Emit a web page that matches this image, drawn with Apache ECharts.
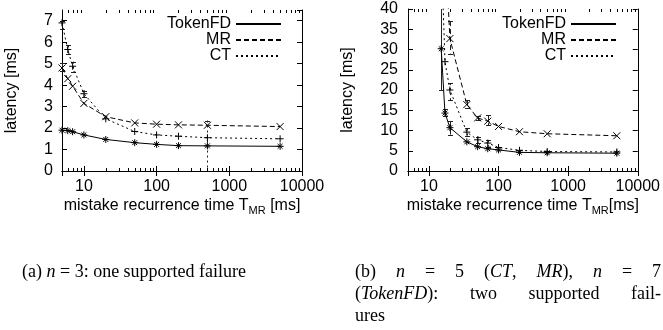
<!DOCTYPE html>
<html><head><meta charset="utf-8">
<script src="https://cdn.jsdelivr.net/npm/echarts@6/dist/echarts.min.js"></script>
<style>html,body{margin:0;padding:0;background:#fff}#c{width:663px;height:330px}</style>
</head><body><div id="c"></div>
<script>
// ---- data (a) n=3 ----
const xA = [5, 6, 7, 10, 20, 50, 100, 200, 500, 5000];
const tokenA = [1.9, 1.88, 1.83, 1.68, 1.47, 1.32, 1.24, 1.18, 1.17, 1.15];
const mrA = [4.8, 4.3, 3.95, 3.15, 2.53, 2.24, 2.18, 2.15, 2.13, 2.07];
const ctA = [6.9, 5.66, 4.88, 3.6, 2.43, 1.84, 1.68, 1.62, 1.55, 1.5];
// ---- data (b) n=5/7 ----
const xB = [15, 17, 20, 35, 50, 70, 100, 200, 500, 5000];
const tokenB = [30.2, 14.3, 10.7, 7.2, 6.0, 5.5, 5.2, 4.6, 4.5, 4.4];
const mrB = [null, 57, 32.7, 16.4, 13.1, 12.3, 11.0, 9.7, 9.2, 8.7];
const ctB = [55, 27, 20, 9.6, 7.7, 6.9, 5.8, 5.1, 4.8, 4.7];
// ---- error bars [x, low, high] ----
const errCtA = [[5, 6.6, 7.0], [6, 5.45, 5.85], [7, 4.6, 5.1], [10, 3.45, 3.75], [500, -0.2, 2.35]];
const errMrA = [[5, 4.65, 5.05]];
const errTokenB = [[15, 20, 45], [17, 13.5, 15.2], [20, 9, 12.3]];
const errMrB = [[20, 29, 37], [35, 15.5, 17.5], [50, 12.5, 13.6], [70, 11.3, 13.8]];
const errCtB = [[20, 17.5, 21.7], [35, 8.7, 10.5], [50, 7, 8.5], [70, 6, 7.6]];
// ---- axis ticks ----
const xMajorLabels = [10, 100, 1000, 10000];
const minorX = [6, 7, 8, 9, 20, 30, 40, 50, 60, 70, 80, 90, 200, 300, 400, 500, 600, 700, 800, 900,
  2000, 3000, 4000, 5000, 6000, 7000, 8000, 9000];
// ---- captions: words as runs [text, italic] ----
const capA = [[['(a) ', 0], ['n', 1], [' = 3: one supported failure', 0]]];
const capB1 = [[['(b)', 0]], [['n', 1]], [['=', 0]], [['5', 0]], [['(', 0], ['CT', 1], [',', 0]],
  [['MR', 1], ['),', 0]], [['n', 1]], [['=', 0]], [['7', 0]]];
const capB2 = [[['(', 0], ['TokenFD', 1], ['):', 0]], [['two', 0]], [['supported', 0]], [['fail-', 0]]];
const capB3 = [[['ures', 0]]];

const FONT = 'Liberation Sans';
const SERIF = 'Liberation Serif';
const CAP_SIZE = 18;
const pairs = (xs, ys) => xs.map((x, i) => [x, ys[i]]).filter(p => p[1] !== null);

const SYM_STAR = 'path://M0,5L10,5M5,0L5,10M1.5,1.5L8.5,8.5M8.5,1.5L1.5,8.5';
const SYM_X = 'path://M0,0L10,10M10,0L0,10';
const SYM_PLUS = 'path://M0,5L10,5M5,0L5,10';

function lineSeries(name, data, gi, type, sym) {
  return {
    name, type: 'line', data, xAxisIndex: gi * 2, yAxisIndex: gi * 2,
    symbol: sym, symbolSize: 7,
    lineStyle: { color: '#000', width: 1, type },
    itemStyle: { color: '#000', borderColor: '#000', borderWidth: 1 },
    clip: true, animation: false, z: 3
  };
}

function errSeries(data, gi, dash) {
  return {
    type: 'custom', xAxisIndex: gi * 2, yAxisIndex: gi * 2, animation: false, silent: true,
    data: data, encode: { x: 0, y: [1, 2] }, z: 2,
    renderItem: function (params, api) {
      const cs = params.coordSys;
      const x = Math.round(api.coord([api.value(0), 0])[0]) + 0.5;
      const yl = api.coord([api.value(0), api.value(1)])[1];
      const yh = api.coord([api.value(0), api.value(2)])[1];
      const top = cs.y, bot = cs.y + cs.height;
      const ch = [];
      const st = { stroke: '#222', lineWidth: 1, lineDash: dash };
      const cst = { stroke: '#222', lineWidth: 1 };
      const y1 = Math.min(Math.max(yh, top), bot), y2 = Math.min(Math.max(yl, top), bot);
      ch.push({ type: 'line', shape: { x1: x, y1: y1, x2: x, y2: y2 }, style: st });
      if (yh >= top) ch.push({ type: 'line', shape: { x1: x - 2.5, y1: Math.round(yh) + 0.5, x2: x + 2.5, y2: Math.round(yh) + 0.5 }, style: cst });
      if (yl <= bot) ch.push({ type: 'line', shape: { x1: x - 2.5, y1: Math.round(yl) + 0.5, x2: x + 2.5, y2: Math.round(yl) + 0.5 }, style: cst });
      return { type: 'group', children: ch };
    }
  };
}

function minorSeries(gi) {
  return {
    type: 'custom', xAxisIndex: gi * 2, yAxisIndex: gi * 2, animation: false, silent: true,
    data: minorX.map(v => [v, 0]), encode: { x: 0, y: 1 }, z: 4,
    renderItem: function (params, api) {
      const cs = params.coordSys;
      const x = Math.round(api.coord([api.value(0), 0])[0]) + 0.5;
      const st = { stroke: '#000', lineWidth: 1 };
      return { type: 'group', children: [
        { type: 'line', shape: { x1: x, y1: cs.y + cs.height, x2: x, y2: cs.y + cs.height - 3 }, style: st },
        { type: 'line', shape: { x1: x, y1: cs.y, x2: x, y2: cs.y + 3 }, style: st }
      ] };
    }
  };
}

const axisCommon = {
  axisLine: { show: true, lineStyle: { color: '#000', width: 1 } },
  axisTick: { show: true, inside: true, length: 5, lineStyle: { color: '#000', width: 1 } },
  splitLine: { show: false }
};
const labelStyle = { color: '#000', fontSize: 16, fontFamily: FONT };
const nameStyle = { color: '#000', fontSize: 16, fontFamily: FONT,
  rich: { sub: { fontSize: 11, fontFamily: FONT, color: '#000', padding: [9, 0, 0, 0] } } };

function xAxes(gi, title) {
  const base = { type: 'log', logBase: 10, min: 5, max: 10000, gridIndex: gi };
  return [
    Object.assign({}, axisCommon, base, {
      position: 'bottom',
      axisLabel: Object.assign({}, labelStyle, { margin: 8, showMinLabel: false,
        formatter: v => (xMajorLabels.indexOf(Math.round(v)) >= 0 ? String(Math.round(v)) : '') }),
      name: title, nameLocation: 'middle', nameGap: 25, nameTextStyle: nameStyle
    }),
    Object.assign({}, axisCommon, base, { position: 'top', axisLabel: { show: false } })
  ];
}
function yAxes(gi, max, interval, gap, lblMargin) {
  const base = { type: 'value', min: 0, max: max, interval: interval, gridIndex: gi };
  return [
    Object.assign({}, axisCommon, base, {
      position: 'left',
      axisLabel: Object.assign({}, labelStyle, { margin: lblMargin, showMaxLabel: max % interval === 0 }),
      name: 'latency [ms]', nameLocation: 'middle', nameGap: gap, nameRotate: 90,
      nameTextStyle: { color: '#000', fontSize: 16, fontFamily: FONT }
    }),
    Object.assign({}, axisCommon, base, { position: 'right', axisLabel: { show: false } })
  ];
}

const legendCommon = {
  orient: 'vertical', align: 'right', itemWidth: 45, itemHeight: 14, itemGap: 0, padding: 0,
  textStyle: { color: '#000', fontSize: 16, fontFamily: FONT, lineHeight: 16 },
  itemStyle: { opacity: 0 }, selectedMode: false,
  data: ['TokenFD', 'MR', 'CT']
};

// caption layout (justified lines)
const mctx = document.createElement('canvas').getContext('2d');
function fontOf(it) { return (it ? 'italic ' : '') + CAP_SIZE + 'px "' + SERIF + '"'; }
function runW(r) { mctx.font = fontOf(r[1]); return mctx.measureText(r[0]).width; }
function captionLine(words, x0, x1, y, justify) {
  const wW = words.map(w => w.reduce((s, r) => s + runW(r), 0));
  const total = wW.reduce((a, b) => a + b, 0);
  const gap = justify && words.length > 1 ? (x1 - x0 - total) / (words.length - 1) : 0;
  const els = [];
  let x = x0;
  words.forEach((w, i) => {
    w.forEach(r => {
      els.push({ type: 'text', x: x, y: y, style: { text: r[0], fill: '#000', font: fontOf(r[1]),
        textAlign: 'left', textVerticalAlign: 'middle', verticalAlign: 'middle' } });
      x += runW(r);
    });
    x += gap;
  });
  return els;
}

const graphics = [].concat(
  captionLine(capA, 22, 0, 272, false),
  captionLine(capB1, 355, 661, 272, true),
  captionLine(capB2, 355, 661, 294, true),
  captionLine(capB3, 355, 0, 316, false)
);

const option = {
  backgroundColor: '#fff',
  animation: false,
  grid: [
    { left: 62, top: 10, width: 240, height: 161 },
    { left: 408, top: 9, width: 230, height: 162 }
  ],
  xAxis: [].concat(xAxes(0, 'mistake recurrence time T{sub|MR} [ms]'), xAxes(1, 'mistake recurrence time T{sub|MR}[ms]')),
  yAxis: [].concat(yAxes(0, 7.5, 1, 42, 9), yAxes(1, 40, 5, 52, 10)),
  legend: [
    Object.assign({}, legendCommon, { right: 381, top: 16 }),
    Object.assign({}, legendCommon, { right: 46, top: 16 })
  ],
  series: [
    lineSeries('TokenFD', pairs(xA, tokenA), 0, 'solid', SYM_STAR),
    lineSeries('MR', pairs(xA, mrA), 0, [5, 3], SYM_X),
    lineSeries('CT', pairs(xA, ctA), 0, [2, 3], SYM_PLUS),
    errSeries(errCtA, 0, [2, 3]), errSeries(errMrA, 0, [5, 3]), minorSeries(0),
    lineSeries('TokenFD', pairs(xB, tokenB), 1, 'solid', SYM_STAR),
    lineSeries('MR', pairs(xB, mrB), 1, [5, 3], SYM_X),
    lineSeries('CT', pairs(xB, ctB), 1, [2, 3], SYM_PLUS),
    errSeries(errTokenB, 1, null), errSeries(errMrB, 1, [5, 3]), errSeries(errCtB, 1, [2, 3]), minorSeries(1)
  ],
  graphic: graphics
};
const chart = echarts.init(document.getElementById('c'), null, { renderer: 'canvas' });
chart.setOption(option);
</script></body></html>
